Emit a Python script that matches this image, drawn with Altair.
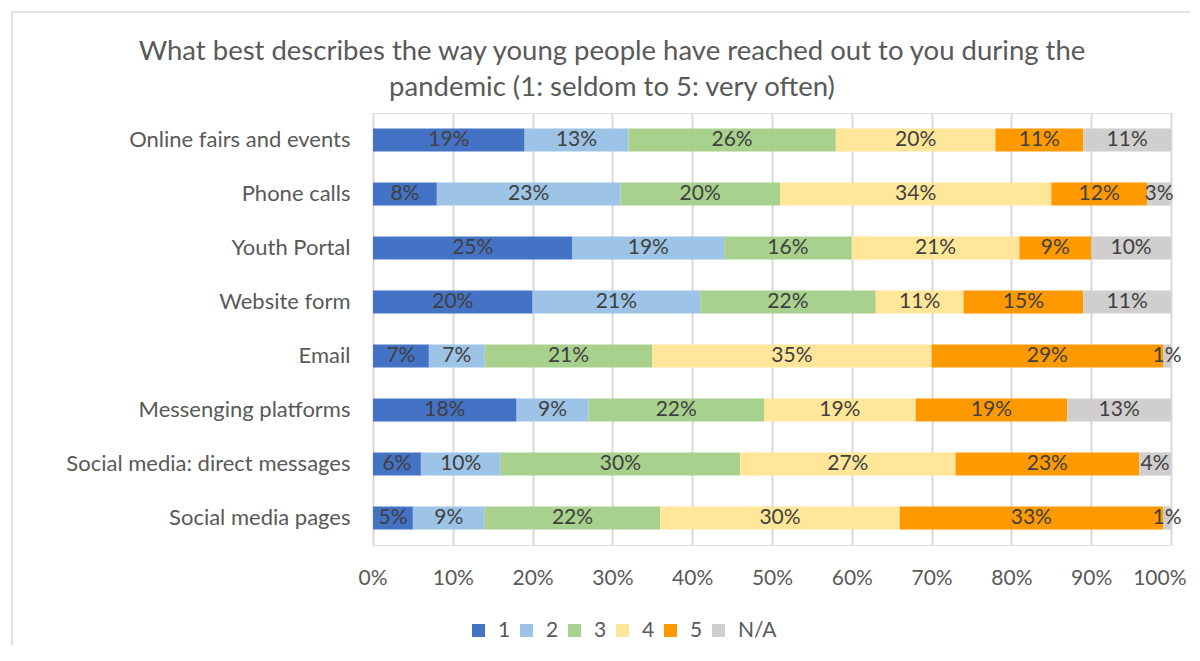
import altair as alt
import pandas as pd

categories = [
    "Online fairs and events",
    "Phone calls",
    "Youth Portal",
    "Website form",
    "Email",
    "Messenging platforms",
    "Social media: direct messages",
    "Social media pages",
]
series = ["1", "2", "3", "4", "5", "N/A"]
colors = ["#4472C4", "#9DC3E6", "#A9D18E", "#FFE699", "#FF9900", "#D0CECE"]

v1 = [19, 8, 25, 20, 7, 18, 6, 5]
v2 = [13, 23, 19, 21, 7, 9, 10, 9]
v3 = [26, 20, 16, 22, 21, 22, 30, 22]
v4 = [20, 34, 21, 11, 35, 19, 27, 30]
v5 = [11, 12, 9, 15, 29, 19, 23, 33]
vna = [11, 3, 10, 11, 1, 13, 4, 1]
values = [v1, v2, v3, v4, v5, vna]

title_lines = [
    "What best describes the way young people have reached out to you during the",
    "pandemic (1: seldom to 5: very often)",
]

rows = []
for si, (s, vals) in enumerate(zip(series, values)):
    for c, v in zip(categories, vals):
        rows.append({"cat": c, "series": s, "order": si, "value": v / 100})
df = pd.DataFrame(rows)

FONT = "Lato"
TXT = "#404040"
GREY = "#595959"

base = alt.Chart(df).transform_stack(
    stack="value", groupby=["cat"], as_=["start", "end"],
    sort=[alt.SortField("order", order="ascending")]
).transform_calculate(mid="(datum.start + datum.end) / 2")

yenc = alt.Y("cat:N", sort=categories, title=None,
             scale=alt.Scale(paddingInner=0.57, paddingOuter=0.285),
             axis=alt.Axis(ticks=False, domain=False, labelFontSize=22,
                           labelColor=GREY, labelPadding=23, labelFont=FONT,
                           labelLimit=0, grid=False))

bars = base.mark_bar().encode(
    x=alt.X("start:Q", scale=alt.Scale(domain=[0, 1], nice=False), title=None,
            axis=alt.Axis(format="%", values=[i / 10 for i in range(11)],
                          ticks=False, domain=False, labelFontSize=21,
                          labelColor=GREY, labelPadding=22, labelFont=FONT,
                          labelFlush=True, labelFlushOffset=15, labelOverlap=False,
                          grid=True, gridColor="#D9D9D9", gridWidth=2)),
    x2="end:Q",
    y=yenc,
    color=alt.Color("series:N", scale=alt.Scale(domain=series, range=colors),
                    legend=alt.Legend(title=None, orient="none", direction="horizontal",
                                      legendX=95, legendY=507, symbolType="square",
                                      symbolSize=169, symbolStrokeWidth=0,
                                      labelFontSize=21, labelColor=GREY,
                                      labelFont=FONT, columnPadding=5,
                                      gridAlign="none",
                                      labelOffset=9, symbolOffset=0)),
    order=alt.Order("order:Q"),
)

labels = base.mark_text(fontSize=21, color=TXT, font=FONT).encode(
    x=alt.X("mid:Q"),
    y=alt.Y("cat:N", sort=categories),
    text=alt.Text("value:Q", format=".0%"),
)

tdf = pd.DataFrame({"t": title_lines})
title1 = alt.Chart(tdf).transform_filter(alt.datum.t == title_lines[0]).mark_text(
    fontSize=27.5, font=FONT, color=GREY, align="center", baseline="middle"
).encode(text="t:N", x=alt.value(239), y=alt.value(-61))
title2 = alt.Chart(tdf).transform_filter(alt.datum.t == title_lines[1]).mark_text(
    fontSize=27.5, font=FONT, color=GREY, align="center", baseline="middle"
).encode(text="t:N", x=alt.value(239), y=alt.value(-25))

border = alt.Chart(pd.DataFrame({"a": [0]})).mark_rect(
    fill=None, stroke="#D9D9D9", strokeWidth=1.5
).encode(
    x=alt.value(-361), x2=alt.value(840), y=alt.value(-101), y2=alt.value(560)
)

chart = alt.layer(border, bars, labels, title1, title2).properties(
    width=798,
    height=432,
    autosize=alt.AutoSizeParams(type="none"),
    padding={"left": 365, "top": 105, "right": 19, "bottom": 100},
).configure_view(stroke=None).configure(background="white")

chart.save("out.html", embed_options={"renderer": "svg", "actions": False})
